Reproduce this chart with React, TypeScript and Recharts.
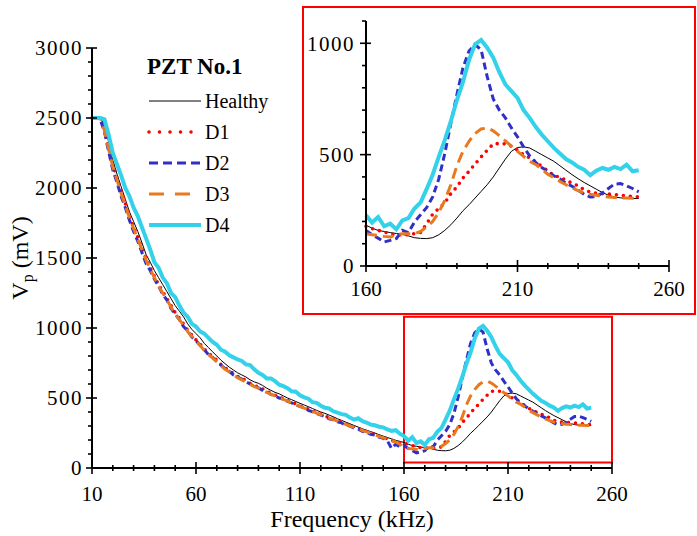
import React from 'react'
import { LineChart, Line, XAxis, YAxis, ReferenceArea, Legend } from 'recharts'

const freqs = [
  10, 12, 14, 16, 18, 20, 22, 24, 26, 28,
  30, 32, 34, 36, 38, 40, 42, 44, 46, 48,
  50, 52, 54, 56, 58, 60, 62, 64, 66, 68,
  70, 72, 74, 76, 78, 80, 82, 84, 86, 88,
  90, 92, 94, 96, 98, 100, 102, 104, 106, 108,
  110, 112, 114, 116, 118, 120, 122, 124, 126, 128,
  130, 132, 134, 136, 138, 140, 142, 144, 146, 148,
  150, 152, 154, 156, 158, 160, 162, 164, 166, 168,
  170, 172, 174, 176, 178, 180, 182, 184, 186, 188,
  190, 192, 194, 196, 198, 200, 202, 204, 206, 208,
  210, 212, 214, 216, 218, 220, 222, 224, 226, 228,
  230, 232, 234, 236, 238, 240, 242, 244, 246, 248,
  250,
]

const healthy = [
  2500, 2500, 2500, 2450, 2330, 2200, 2100, 2010, 1920, 1830,
  1760, 1690, 1610, 1525, 1470, 1410, 1360, 1310, 1260, 1210,
  1160, 1120, 1080, 1030, 990, 960, 930, 890, 860, 830,
  800, 770, 745, 720, 700, 680, 665, 650, 630, 615,
  605, 590, 570, 555, 540, 530, 515, 500, 488, 475,
  462, 450, 438, 425, 412, 400, 390, 378, 366, 352,
  340, 328, 316, 304, 292, 280, 270, 260, 250, 238,
  228, 218, 208, 198, 190, 183, 170, 160, 155, 150,
  146, 142, 135, 127, 124, 123, 127, 140, 160, 185,
  215, 248, 275, 305, 335, 365, 400, 440, 480, 515,
  532, 535, 530, 515, 500, 485, 470, 450, 430, 410,
  392, 375, 360, 345, 330, 318, 310, 306, 304, 303,
  303,
]

const d1 = [
  2500, 2500, 2500, 2420, 2290, 2170, 2070, 1980, 1890, 1800,
  1720, 1650, 1570, 1500, 1430, 1370, 1310, 1260, 1210, 1160,
  1110, 1070, 1030, 985, 950, 915, 885, 850, 820, 795,
  770, 740, 715, 695, 675, 655, 640, 625, 605, 590,
  578, 565, 548, 535, 520, 508, 495, 482, 470, 458,
  445, 432, 420, 408, 395, 384, 372, 360, 350, 338,
  326, 315, 303, 293, 282, 270, 260, 250, 240, 228,
  218, 208, 198, 190, 182, 178, 168, 160, 153, 145,
  140, 138, 141, 145, 150, 190, 232, 258, 283, 325,
  355, 395, 425, 458, 490, 520, 548, 550, 548, 538,
  520, 500, 485, 468, 447, 428, 405, 400, 385, 372,
  360, 342, 332, 327, 325, 323, 321, 318, 315, 312,
  310,
]

const d2 = [
  2500, 2500, 2490, 2400, 2260, 2130, 2040, 1940, 1860, 1770,
  1690, 1620, 1540, 1460, 1410, 1350, 1300, 1240, 1200, 1140,
  1100, 1060, 1010, 980, 935, 910, 875, 845, 810, 790,
  760, 735, 710, 690, 665, 650, 635, 615, 600, 585,
  572, 555, 545, 525, 515, 500, 492, 475, 465, 450,
  440, 428, 412, 402, 390, 378, 368, 352, 345, 330,
  322, 305, 300, 285, 278, 262, 255, 240, 235, 220,
  212, 195, 140, 170, 150, 160, 140, 125, 108, 115,
  123, 160, 150, 198, 230, 262, 310, 390, 505, 640,
  770, 890, 965, 995, 970, 850, 750, 700, 665, 620,
  580, 535, 495, 465, 442, 425, 405, 390, 372, 358,
  340, 322, 310, 312, 328, 348, 368, 370, 360, 348,
  333,
]

const d3 = [
  2500, 2500, 2500, 2410, 2280, 2150, 2060, 1960, 1875, 1790,
  1710, 1635, 1560, 1485, 1420, 1360, 1300, 1250, 1200, 1150,
  1100, 1060, 1020, 975, 940, 905, 875, 840, 810, 785,
  760, 730, 705, 685, 665, 645, 630, 615, 598, 582,
  570, 555, 540, 528, 515, 502, 490, 477, 465, 452,
  440, 428, 416, 404, 392, 380, 368, 357, 346, 335,
  322, 312, 300, 290, 280, 268, 258, 248, 238, 226,
  216, 206, 196, 186, 170, 145, 140, 138, 133, 130,
  140, 145, 145, 145, 155, 175, 200, 240, 295, 365,
  450, 515, 560, 595, 615, 620, 607, 585, 562, 538,
  515, 492, 470, 456, 435, 412, 396, 380, 365, 350,
  338, 328, 322, 318, 313, 310, 307, 306, 305, 304,
  303,
]

const d4 = [
  2500, 2500, 2500, 2490, 2380, 2250, 2170, 2090, 2000, 1940,
  1860, 1800, 1720, 1640, 1560, 1470, 1430, 1360, 1320, 1250,
  1220, 1160, 1110, 1080, 1030, 1010, 975, 960, 930, 900,
  880, 845, 830, 805, 790, 775, 765, 740, 735, 705,
  680, 665, 640, 640, 620, 595, 585, 570, 548, 545,
  520, 505, 495, 470, 465, 445, 430, 425, 405, 395,
  385, 380, 360, 345, 355, 335, 325, 310, 305, 295,
  290, 275, 265, 270, 245, 228, 195, 220, 178, 190,
  165, 205, 215, 258, 285, 345, 410, 490, 565, 650,
  745, 825, 925, 995, 1015, 980, 935, 870, 815, 785,
  755, 700, 665, 625, 590, 560, 530, 505, 480, 465,
  445, 432, 408, 428, 440, 432, 445, 435, 455, 425,
  430,
]

const mainXTicks = [10, 20, 30, 40, 50, 60, 70, 80, 90, 100, 110, 120, 130, 140, 150, 160, 170, 180, 190, 200, 210, 220, 230, 240, 250, 260]
const mainXLabels = [10, 60, 110, 160, 210, 260]
const mainYTicks = [
  0, 100, 200, 300, 400, 500, 600, 700, 800, 900, 1000, 1100, 1200, 1300, 1400, 1500,
  1600, 1700, 1800, 1900, 2000, 2100, 2200, 2300, 2400, 2500, 2600, 2700, 2800, 2900, 3000,
]
const mainYLabels = [0, 500, 1000, 1500, 2000, 2500, 3000]
const insetXTicks = [160, 170, 180, 190, 200, 210, 220, 230, 240, 250, 260]
const insetXLabels = [160, 210, 260]
const insetYTicks = [0, 100, 200, 300, 400, 500, 600, 700, 800, 900, 1000, 1100]
const insetYLabels = [0, 500, 1000]

const rows = freqs.map((f, i) => ({ f, healthy: healthy[i], d1: d1[i], d2: d2[i], d3: d3[i], d4: d4[i] }))
const insetRows = rows.filter((r) => r.f >= 160)

const series = [
  { key: 'healthy', name: 'Healthy', color: '#000000', width: 1, dash: undefined, legendDash: undefined, cap: 'butt' },
  { key: 'd1', name: 'D1', color: '#FF0000', width: 3.6, dash: '0 7', legendDash: '0 10.5', cap: 'round' },
  { key: 'd2', name: 'D2', color: '#3030C8', width: 3, dash: '7 4', legendDash: '9 5', cap: 'butt' },
  { key: 'd3', name: 'D3', color: '#E8791F', width: 3, dash: '11 6', legendDash: '15 11', cap: 'butt' },
  { key: 'd4', name: 'D4', color: '#33D2EA', width: 4, dash: undefined, legendDash: undefined, cap: 'butt' },
]

const FONT = 'Liberation Serif, Times New Roman, DejaVu Serif, serif'
const txt = { fontFamily: FONT }

const XTick = ({ x, y, payload, labels, labelDy }: any) => {
  const major = labels.includes(payload.value)
  const len = major ? 6 : 3
  return (
    <g>
      <line x1={x} x2={x} y1={y - len} y2={y + len} stroke="#000" strokeWidth={1.6} />
      {major && (
        <text x={x} y={y + labelDy} textAnchor="middle" style={{ ...txt, fontSize: 21 }} fill="#000">
          {payload.value}
        </text>
      )}
    </g>
  )
}

const YTick = ({ x, y, payload, labels, labelDx }: any) => {
  const major = labels.includes(payload.value)
  return (
    <g>
      <line x1={major ? x - 6 : x - 4} x2={major ? x + 5 : x} y1={y} y2={y} stroke="#000" strokeWidth={1.6} />
      {major && (
        <text
          x={x - labelDx}
          y={y}
          dy="0.35em"
          textAnchor="end"
          style={{ ...txt, fontSize: 21, letterSpacing: 1.5 }}
          fill="#000"
        >
          {payload.value}
        </text>
      )}
    </g>
  )
}

const LegendBox = () => (
  <svg width={697} height={536} style={{ position: 'absolute', left: 0, top: 0 }}>
    <text x={147} y={74} style={{ ...txt, fontSize: 23, fontWeight: 'bold' }} fill="#000">
      PZT No.1
    </text>
    {series.map((s, i) => {
      const y = 101 + i * 31
      return (
        <g key={s.key}>
          <line
            x1={149}
            x2={201}
            y1={y}
            y2={y}
            stroke={s.color}
            strokeWidth={s.width}
            strokeDasharray={s.legendDash}
            strokeLinecap={s.cap as any}
          />
          <text x={205} y={y} dy="0.35em" style={{ ...txt, fontSize: 20 }} fill="#000">
            {s.name}
          </text>
        </g>
      )
    })}
  </svg>
)

const renderLines = () =>
  series.map((s) => (
    <Line
      key={s.key}
      type="linear"
      dataKey={s.key}
      name={s.name}
      stroke={s.color}
      strokeWidth={s.width}
      strokeDasharray={s.dash}
      strokeLinecap={s.cap as any}
      dot={false}
      activeDot={false}
      isAnimationActive={false}
    />
  ))

export default function App() {
  return (
    <div style={{ position: 'absolute', left: 0, top: 0, width: 697, height: 536, background: '#fff', fontFamily: FONT }}>
      <LineChart width={697} height={536} data={rows} margin={{ top: 48, right: 85, left: 0, bottom: 0 }}>
        <XAxis
          type="number"
          dataKey="f"
          domain={[10, 260]}
          ticks={mainXTicks}
          interval={0}
          tickSize={0}
          tickMargin={0}
          height={68}
          axisLine={{ stroke: '#000', strokeWidth: 2 }}
          tickLine={false}
          tick={(p: any) => <XTick {...p} labels={mainXLabels} labelDy={33} />}
          label={{
            content: () => (
              <text x={352} y={527} textAnchor="middle" style={{ ...txt, fontSize: 24 }} fill="#000">
                Frequency (kHz)
              </text>
            ),
          }}
        />
        <YAxis
          type="number"
          domain={[0, 3000]}
          ticks={mainYTicks}
          interval={0}
          tickSize={0}
          tickMargin={0}
          width={92}
          axisLine={{ stroke: '#000', strokeWidth: 2 }}
          tickLine={false}
          tick={(p: any) => <YTick {...p} labels={mainYLabels} labelDx={9} />}
          label={{
            content: () => (
              <text
                x={28}
                y={258}
                transform="rotate(-90, 28, 258)"
                textAnchor="middle"
                style={{ ...txt, fontSize: 24 }}
                fill="#000"
              >
                V
                <tspan style={{ fontSize: 16 }} dy={5}>
                  p
                </tspan>
                <tspan dy={-5}> (mV)</tspan>
              </text>
            ),
          }}
        />
        <ReferenceArea x1={160} x2={260} y1={40} y2={1080} stroke="#FF0000" strokeWidth={2} fill="none" fillOpacity={0} />
        {renderLines()}
        <Legend
          layout="horizontal"
          verticalAlign="middle"
          align="center"
          content={() => <LegendBox />}
          wrapperStyle={{ position: 'absolute', left: 0, top: 0, width: 697, height: 536, pointerEvents: 'none' }}
        />
      </LineChart>

      <div style={{ position: 'absolute', left: 302, top: 6, width: 394, height: 309, background: '#fff' }}>
        <LineChart width={394} height={309} data={insetRows} margin={{ top: 15, right: 27, left: 0, bottom: 0 }}>
          <XAxis
            type="number"
            dataKey="f"
            domain={[160, 260]}
            ticks={insetXTicks}
            interval={0}
            tickSize={0}
            tickMargin={0}
            height={49}
            axisLine={{ stroke: '#000', strokeWidth: 2 }}
            tickLine={false}
            tick={(p: any) => <XTick {...p} labels={insetXLabels} labelDy={30} />}
          />
          <YAxis
            type="number"
            domain={[0, 1100]}
            ticks={insetYTicks}
            interval={0}
            tickSize={0}
            tickMargin={0}
            width={64}
            axisLine={{ stroke: '#000', strokeWidth: 2 }}
            tickLine={false}
            tick={(p: any) => <YTick {...p} labels={insetYLabels} labelDx={11} />}
          />
          {renderLines()}
        </LineChart>
        <div
          style={{
            position: 'absolute',
            inset: 0,
            border: '2px solid #FF0000',
            boxSizing: 'border-box',
            pointerEvents: 'none',
          }}
        />
      </div>
    </div>
  )
}
